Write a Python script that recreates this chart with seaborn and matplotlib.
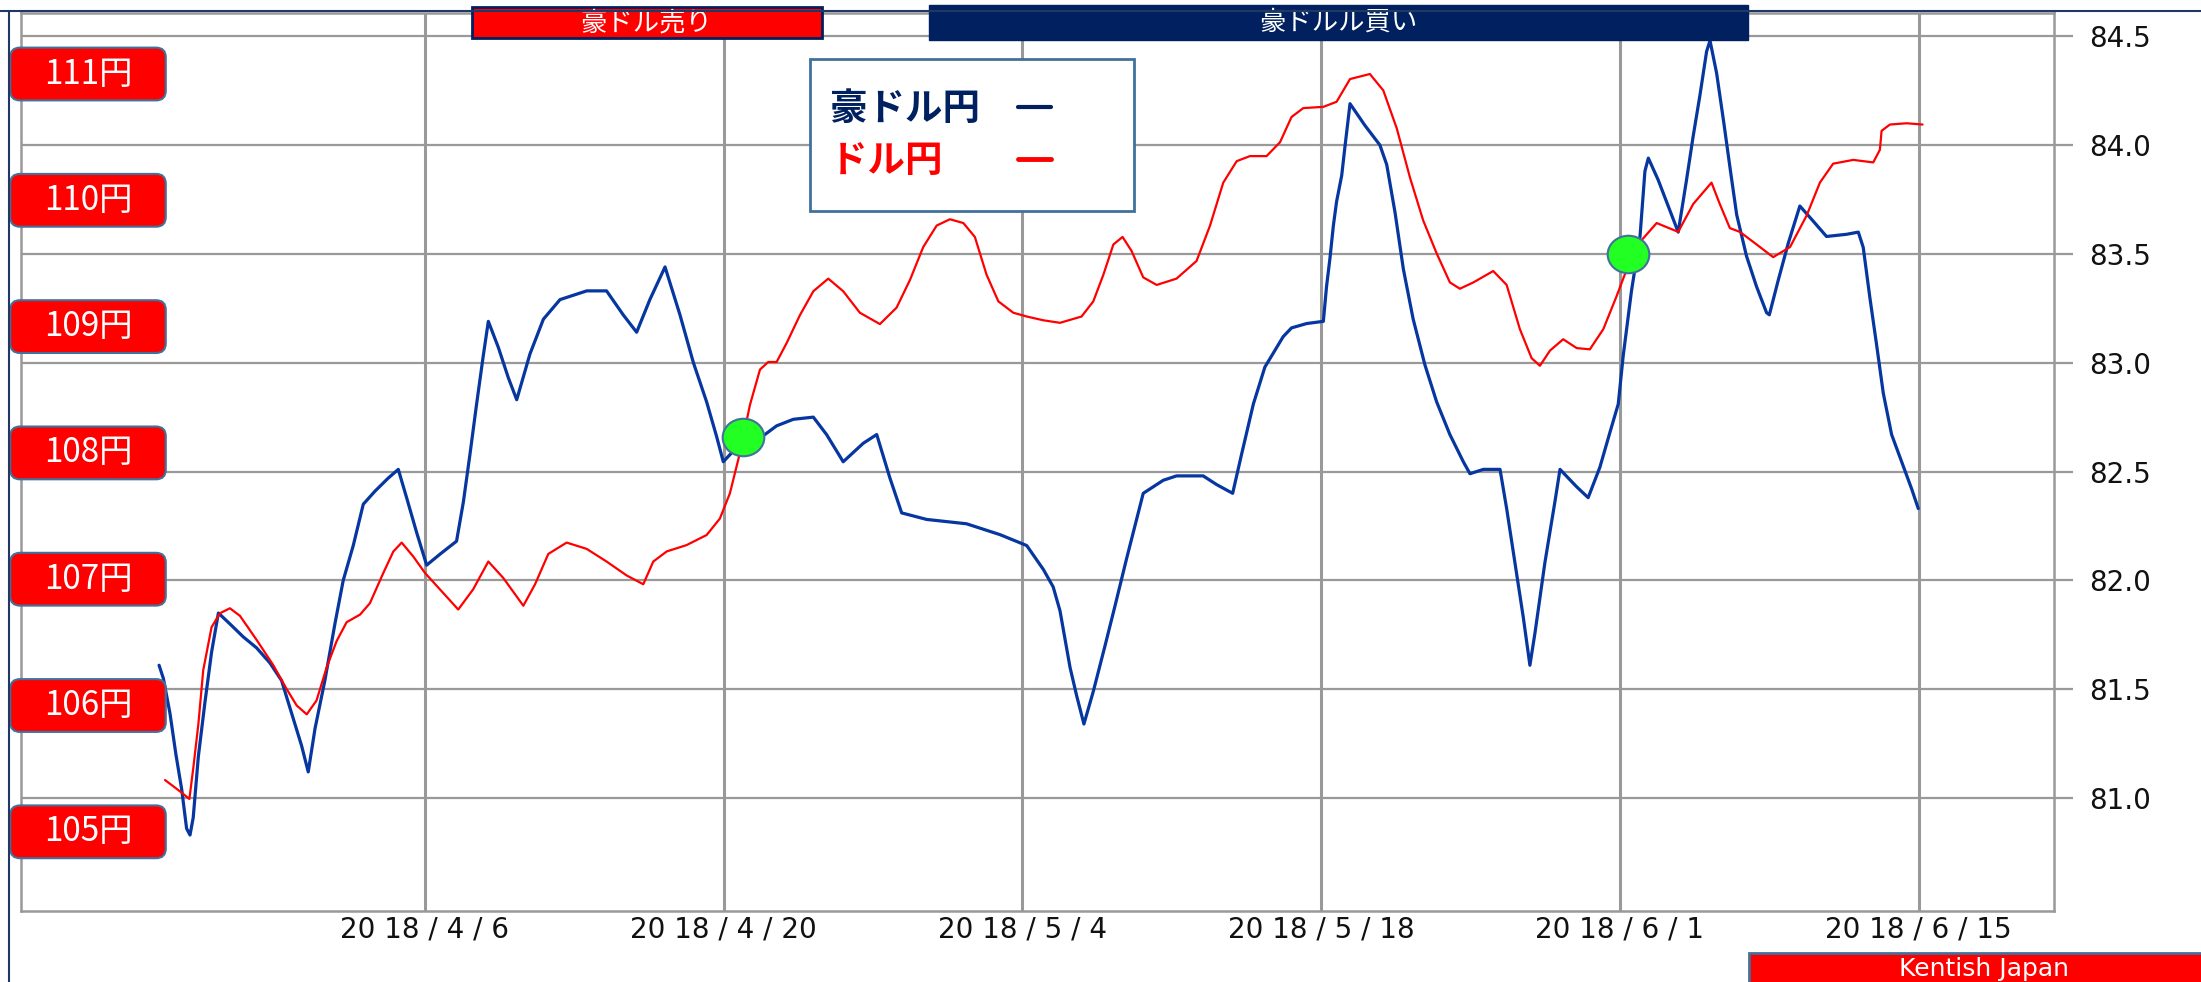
import seaborn as sns
import matplotlib.pyplot as plt
import matplotlib.transforms as mtransforms
from matplotlib.lines import Line2D
from matplotlib.patches import Rectangle, FancyBboxPatch
from matplotlib.path import Path
from matplotlib.offsetbox import AnnotationBbox, DrawingArea

# x values are days counted from 2018/4/6
aud_day = [-12.46, -12.26, -11.95, -11.67, -11.40, -11.17, -11.01, -10.86, -10.62, -10.31,
           -10.00, -9.68, -9.14, -8.51, -7.89, -7.26, -6.72, -6.25, -5.78, -5.47,
           -5.15, -4.69, -4.22, -3.83, -3.36, -2.89, -2.34, -1.72, -1.25, -0.86,
           -0.39, 0.08, 0.70, 1.48, 1.80, 2.11, 2.42, 2.73, 2.97, 3.44,
           3.91, 4.30, 4.92, 5.55, 6.33, 7.58, 8.51, 9.29, 9.92, 10.54,
           11.25, 11.95, 12.58, 13.20, 13.67, 13.98, 14.60, 15.39, 15.93, 16.48,
           17.26, 18.20, 18.82, 19.60, 20.54, 21.17, 21.79, 22.34, 23.51, 25.38,
           26.95, 28.20, 28.98, 29.44, 29.76, 30.23, 30.54, 30.88, 31.32, 31.87,
           32.33, 32.88, 33.35, 33.66, 34.60, 35.22, 36.47, 37.10, 37.85, 38.27,
           38.82, 39.36, 40.22, 40.61, 41.32, 42.10, 42.25, 42.41, 42.57, 42.72,
           42.96, 43.11, 43.35, 44.05, 44.75, 45.07, 45.46, 45.85, 46.31, 46.86,
           47.41, 48.03, 48.66, 48.97, 49.60, 50.38, 50.69, 51.08, 51.47, 51.78,
           52.02, 52.48, 52.95, 53.19, 53.97, 54.51, 55.06, 55.53, 55.92, 56.15,
           56.54, 56.94, 57.17, 57.33, 57.79, 58.26, 58.73, 59.12, 59.43, 59.75,
           60.06, 60.22, 60.53, 60.87, 61.18, 61.47, 61.93, 62.40, 62.87, 63.00,
           63.42, 63.89, 64.43, 65.06, 65.68, 66.62, 67.17, 67.40, 67.71, 68.03,
           68.34, 68.73, 69.20, 69.67, 69.98]
aud_jpy = [81.61, 81.55, 81.39, 81.20, 81.04, 80.86, 80.83, 80.91, 81.19, 81.44,
           81.67, 81.85, 81.80, 81.74, 81.69, 81.62, 81.54, 81.39, 81.24, 81.12,
           81.32, 81.54, 81.80, 82.00, 82.16, 82.35, 82.41, 82.47, 82.51, 82.38,
           82.22, 82.07, 82.12, 82.18, 82.36, 82.58, 82.81, 83.03, 83.19, 83.07,
           82.93, 82.83, 83.04, 83.20, 83.29, 83.33, 83.33, 83.22, 83.14, 83.29,
           83.44, 83.22, 83.00, 82.82, 82.66, 82.545, 82.61, 82.64, 82.67, 82.71,
           82.74, 82.75, 82.67, 82.545, 82.63, 82.67, 82.47, 82.31, 82.28, 82.26,
           82.21, 82.16, 82.05, 81.97, 81.86, 81.60, 81.47, 81.34, 81.49, 81.70,
           81.88, 82.10, 82.28, 82.40, 82.46, 82.48, 82.48, 82.44, 82.40, 82.58,
           82.81, 82.98, 83.12, 83.16, 83.18, 83.19, 83.35, 83.48, 83.63, 83.74,
           83.86, 83.99, 84.19, 84.09, 84.00, 83.91, 83.69, 83.43, 83.20, 82.99,
           82.82, 82.67, 82.545, 82.49, 82.51, 82.51, 82.33, 82.08, 81.83, 81.61,
           81.76, 82.08, 82.36, 82.51, 82.43, 82.38, 82.52, 82.68, 82.81, 83.03,
           83.33, 83.58, 83.88, 83.94, 83.84, 83.72, 83.60, 83.84, 84.04, 84.23,
           84.43, 84.48, 84.33, 84.10, 83.88, 83.68, 83.49, 83.35, 83.23, 83.22,
           83.38, 83.55, 83.72, 83.65, 83.58, 83.59, 83.60, 83.53, 83.30, 83.08,
           82.86, 82.67, 82.545, 82.42, 82.33]

usd_day = [-12.18, -11.40, -11.04, -10.86, -10.62, -10.39, -10.00, -9.61, -9.14, -8.67,
           -7.89, -7.11, -6.48, -6.01, -5.54, -5.08, -4.61, -4.14, -3.67, -3.04,
           -2.58, -1.95, -1.48, -1.09, -0.55, 0.00, 0.70, 1.56, 2.26, 2.97,
           3.67, 4.61, 5.16, 5.78, 6.64, 7.58, 8.51, 9.45, 10.23, 10.70,
           11.33, 12.26, 13.20, 13.82, 14.29, 14.76, 15.23, 15.70, 16.09, 16.48,
           16.95, 17.57, 18.20, 18.90, 19.60, 20.38, 21.32, 22.10, 22.73, 23.35,
           23.98, 24.60, 25.23, 25.77, 26.32, 26.87, 27.57, 28.20, 28.98, 29.76,
           30.77, 31.32, 31.79, 32.26, 32.69, 33.11, 33.66, 34.29, 35.22, 36.16,
           36.79, 37.41, 38.04, 38.66, 39.44, 40.07, 40.61, 41.16, 42.10, 42.72,
           43.35, 44.28, 44.91, 45.54, 46.16, 46.78, 47.41, 48.03, 48.50, 49.13,
           50.06, 50.69, 51.31, 51.86, 52.25, 52.72, 53.34, 53.97, 54.59, 55.22,
           55.84, 56.31, 56.94, 57.72, 58.73, 59.43, 60.29, 60.68, 61.15, 61.62,
           62.25, 63.18, 63.97, 64.75, 65.37, 65.99, 66.93, 67.87, 68.18, 68.26,
           68.65, 69.43, 70.18]
usd_jpy = [105.41, 105.31, 105.26, 105.50, 105.85, 106.28, 106.62, 106.73, 106.77, 106.71,
           106.52, 106.32, 106.13, 106.00, 105.93, 106.04, 106.30, 106.51, 106.66, 106.72,
           106.81, 107.05, 107.22, 107.29, 107.18, 107.05, 106.92, 106.76, 106.92, 107.14,
           107.01, 106.79, 106.96, 107.20, 107.29, 107.24, 107.14, 107.03, 106.96, 107.14,
           107.22, 107.27, 107.35, 107.48, 107.68, 108.00, 108.38, 108.66, 108.72, 108.72,
           108.87, 109.09, 109.28, 109.38, 109.28, 109.11, 109.02, 109.15, 109.37, 109.63,
           109.80, 109.85, 109.82, 109.71, 109.41, 109.20, 109.11, 109.08, 109.05, 109.03,
           109.08, 109.20, 109.41, 109.65, 109.71, 109.60, 109.39, 109.33, 109.38, 109.52,
           109.80, 110.14, 110.31, 110.35, 110.35, 110.46, 110.66, 110.73, 110.74, 110.78,
           110.96, 111.00, 110.87, 110.57, 110.18, 109.84, 109.58, 109.35, 109.30, 109.35,
           109.44, 109.33, 108.98, 108.75, 108.69, 108.81, 108.90, 108.83, 108.82, 108.98,
           109.24, 109.45, 109.67, 109.82, 109.75, 109.97, 110.14, 109.97, 109.78, 109.75,
           109.67, 109.55, 109.63, 109.88, 110.14, 110.29, 110.32, 110.30, 110.40, 110.55,
           110.60, 110.61, 110.60]

# crossing points marked with green circles
cross_day = [14.90, 56.37]
cross_aud = [82.66, 83.50]

tick_days = [0, 14, 28, 42, 56, 70]
tick_labels = ["20 18 / 4 / 6", "20 18 / 4 / 20", "20 18 / 5 / 4",
               "20 18 / 5 / 18", "20 18 / 6 / 1", "20 18 / 6 / 15"]
aud_ticks = [81.0, 81.5, 82.0, 82.5, 83.0, 83.5, 84.0, 84.5]
yen_levels = [105, 106, 107, 108, 109, 110, 111]
yen_labels = ["105円", "106円", "107円", "108円", "109円", "110円", "111円"]

sell_span = (2.2, 18.6)
buy_span = (23.6, 62.0)

navy = "#002060"
blue = "#0636a0"
grid_gray = "#999999"
edge_blue = "#41719c"

sns.set_style("white")
plt.rcParams['font.family'] = ['Noto Sans CJK JP', 'DejaVu Sans']

fig = plt.figure(figsize=(22.01, 9.82), dpi=100)
ax = fig.add_axes([21 / 2201, 1 - 911 / 982, (2054 - 21) / 2201, (911 - 12.5) / 982])
ax2 = ax.twinx()

sns.lineplot(x=aud_day, y=aud_jpy, ax=ax, color=blue, lw=2.3, zorder=3)
sns.lineplot(x=usd_day, y=usd_jpy, ax=ax2, color='red', lw=1.6, zorder=3)

# green circles (slightly flattened)
circ = Path.unit_circle()
ell = Path(circ.vertices * [1.0, 0.9], circ.codes)
ax2.plot(cross_day, cross_aud, ls='none', marker=ell, ms=30, mfc='#22ff22',
         mec=edge_blue, mew=1.5, transform=ax.transData, zorder=5)

ax.set_xlim(-18.93, 76.34)
ax.set_ylim(80.481, 84.609)
ax2.set_ylim(104.373, 111.487)

ax.set_xticks(tick_days)
ax.set_xticklabels(tick_labels)
ax.set_yticks(aud_ticks)
ax.set_yticklabels([f"{v:.1f}" for v in aud_ticks])
ax.yaxis.tick_right()
ax.set_axisbelow(True)
ax.grid(True, axis='x', color=grid_gray, lw=2.2)
ax.grid(True, axis='y', color=grid_gray, lw=1.6)
ax.tick_params(axis='x', length=0, pad=3, labelsize=20, labelcolor='#111111')
ax.tick_params(axis='y', direction='out', length=13.7, width=1.6, color=grid_gray,
               pad=11.5, labelsize=20, labelcolor='#111111', right=True, left=False)
for lab in ax.get_xticklabels() + ax.get_yticklabels():
    lab.set_fontfamily('DejaVu Sans')
for sp in ax.spines.values():
    sp.set_color(grid_gray)
    sp.set_linewidth(1.8)
ax2.set_yticks([])
for sp in ax2.spines.values():
    sp.set_visible(False)
ax.set_xlabel("")
ax.set_ylabel("")
ax2.set_ylabel("")

# yen level boxes on the left
blend = mtransforms.blended_transform_factory(ax2.transAxes, ax2.transData)
bx = (88 - 21) / 2033
for v, lab in zip(yen_levels, yen_labels):
    da = DrawingArea(112, 38, 0, 0)
    da.add_artist(FancyBboxPatch((0, 0), 112, 38, boxstyle='round,pad=0,rounding_size=7',
                                 fc='red', ec=edge_blue, lw=1.5))
    ab = AnnotationBbox(da, (bx, v), xycoords=blend, frameon=False, box_alignment=(0.5, 0.5),
                        pad=0, annotation_clip=False, zorder=6)
    ax2.add_artist(ab)
    ax2.text(bx, v, lab, transform=blend, ha='center', va='center', color='white',
             fontsize=24, zorder=7)

# sell / buy banners at the top
top = mtransforms.blended_transform_factory(ax2.transData, ax2.transAxes)
ax2.add_patch(Rectangle((sell_span[0], 0.9716), sell_span[1] - sell_span[0], 0.0345,
                        transform=top, fc='red', ec=navy, lw=2, clip_on=False, zorder=8))
ax2.text(sum(sell_span) / 2, 0.9889, "豪ドル売り", transform=top, ha='center', va='center',
         color='white', fontsize=19, zorder=9, clip_on=False)
ax2.add_patch(Rectangle((buy_span[0], 0.9694), buy_span[1] - buy_span[0], 0.039,
                        transform=top, fc=navy, ec=navy, lw=1, clip_on=False, zorder=8))
ax2.text(sum(buy_span) / 2, 0.9889, "豪ドルル買い", transform=top, ha='center', va='center',
         color='white', fontsize=19, zorder=9, clip_on=False)

# legend box
ax2.add_patch(Rectangle((0.3881, 0.7791), 0.1594, 0.1691, transform=ax2.transAxes,
                        fc='white', ec=edge_blue, lw=2, zorder=8))
h1 = Line2D([], [], color=navy, lw=3)
h2 = Line2D([], [], color='red', lw=3.5)
leg = ax2.legend([h1, h2], ['豪ドル円', 'ドル円\u3000'], loc='upper left',
                 bbox_to_anchor=(0.398, 0.915), frameon=False, markerfirst=False,
                 handlelength=0.88, handletextpad=1.0, labelspacing=0.35,
                 borderpad=0, borderaxespad=0,
                 prop={'size': 27, 'weight': 'bold', 'family': 'Noto Sans CJK JP'},
                 labelcolor=[navy, 'red'])
leg.set_zorder(9)

# frame lines of the picture
fig.add_artist(Line2D([0, 1], [1 - 10.5 / 982] * 2, transform=fig.transFigure, color='#1f3864', lw=1.5))
fig.add_artist(Line2D([8.6 / 2201] * 2, [0, 1 - 10.5 / 982], transform=fig.transFigure, color='#1f3864', lw=1.5))

# credit box bottom right
fig.add_artist(Rectangle((1749 / 2201, -0.02), 0.25, 0.0495, transform=fig.transFigure,
                         fc='red', ec=edge_blue, lw=2))
fig.text(1984 / 2201, 1 - 981 / 982, "Kentish Japan", ha='center', va='bottom', color='white',
         fontsize=18, family='DejaVu Sans')

fig.savefig("out.png", dpi=100)
